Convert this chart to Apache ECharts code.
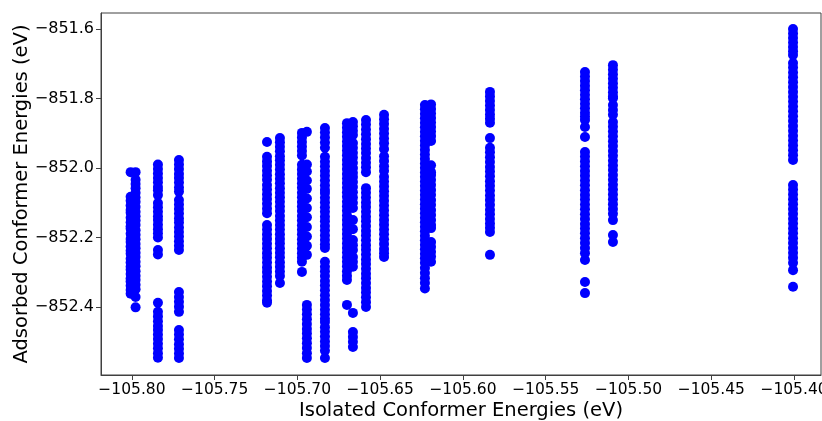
<!DOCTYPE html>
<html>
<head>
<meta charset="utf-8">
<script src="https://cdn.jsdelivr.net/npm/echarts@6/dist/echarts.min.js"></script>
<style>html,body{margin:0;padding:0;background:#fff}#chart{width:822px;height:421px}</style>
</head>
<body>
<div id="chart"></div>
<script>
// x position (isolated conformer energy, eV) of each vertical column of points
const colX = [-105.8008, -105.7978, -105.7843, -105.7716, -105.7184, -105.7106, -105.6973, -105.6943,
  -105.6834, -105.6701, -105.6665, -105.6586, -105.6477, -105.6230, -105.6193, -105.5837,
  -105.5263, -105.5094, -105.4006];
// adsorbed conformer energies (eV) for each column
const c01 = [-852.012, -852.083, -852.094, -852.108, -852.121, -852.129, -852.143, -852.156, -852.168, -852.175, -852.189, -852.204, -852.213, -852.226, -852.238, -852.247, -852.261, -852.272, -852.284, -852.293, -852.305, -852.318, -852.327, -852.339, -852.351, -852.362];
const c02 = [-852.012, -852.034, -852.046, -852.058, -852.071, -852.085, -852.097, -852.112, -852.126, -852.139, -852.151, -852.164, -852.179, -852.192, -852.205, -852.219, -852.231, -852.244, -852.256, -852.270, -852.283, -852.297, -852.310, -852.322, -852.336, -852.349, -852.371, -852.401];
const c03 = [-851.990, -852.003, -852.016, -852.029, -852.041, -852.055, -852.064, -852.078, -852.101, -852.113, -852.126, -852.139, -852.150, -852.163, -852.176, -852.188, -852.200, -852.236, -852.249, -852.388, -852.414, -852.427, -852.441, -852.455, -852.466, -852.479, -852.492, -852.506, -852.519, -852.533, -852.546];
const c04 = [-851.977, -851.990, -852.003, -852.017, -852.029, -852.042, -852.056, -852.068, -852.092, -852.105, -852.118, -852.131, -852.145, -852.157, -852.171, -852.184, -852.197, -852.211, -852.224, -852.236, -852.357, -852.371, -852.385, -852.399, -852.414, -852.466, -852.479, -852.493, -852.507, -852.520, -852.534, -852.547];
const c05 = [-851.925, -851.968, -851.981, -851.994, -852.008, -852.021, -852.034, -852.049, -852.062, -852.076, -852.089, -852.103, -852.117, -852.130, -852.164, -852.177, -852.191, -852.204, -852.218, -852.231, -852.245, -852.258, -852.272, -852.286, -852.299, -852.313, -852.327, -852.340, -852.354, -852.367, -852.381, -852.388];
const c06 = [-851.914, -851.926, -851.939, -851.952, -851.966, -851.978, -851.991, -852.004, -852.018, -852.031, -852.044, -852.058, -852.071, -852.084, -852.097, -852.111, -852.124, -852.138, -852.151, -852.164, -852.177, -852.191, -852.204, -852.217, -852.231, -852.244, -852.257, -852.271, -852.284, -852.298, -852.311, -852.331];
const c07 = [-851.899, -851.912, -851.925, -851.938, -851.951, -851.964, -851.991, -852.004, -852.017, -852.031, -852.044, -852.057, -852.071, -852.084, -852.098, -852.111, -852.124, -852.138, -852.151, -852.165, -852.178, -852.191, -852.205, -852.218, -852.232, -852.245, -852.258, -852.270, -852.299];
const c08 = [-851.896, -851.990, -852.010, -852.036, -852.060, -852.088, -852.115, -852.142, -852.170, -852.197, -852.224, -852.250, -852.394, -852.407, -852.421, -852.435, -852.449, -852.463, -852.476, -852.490, -852.504, -852.518, -852.533, -852.547];
const c09 = [-851.885, -851.898, -851.912, -851.927, -851.942, -851.968, -851.982, -851.995, -852.009, -852.022, -852.036, -852.050, -852.063, -852.072, -852.086, -852.099, -852.113, -852.126, -852.140, -852.153, -852.167, -852.180, -852.194, -852.207, -852.220, -852.230, -852.270, -852.284, -852.297, -852.311, -852.325, -852.338, -852.352, -852.366, -852.380, -852.394, -852.408, -852.421, -852.434, -852.443, -852.458, -852.471, -852.485, -852.499, -852.512, -852.526, -852.547];
const c10 = [-851.871, -851.884, -851.897, -851.910, -851.924, -851.937, -851.950, -851.963, -851.977, -851.990, -852.003, -852.017, -852.030, -852.043, -852.057, -852.070, -852.083, -852.097, -852.110, -852.123, -852.137, -852.150, -852.163, -852.177, -852.190, -852.203, -852.217, -852.230, -852.243, -852.257, -852.270, -852.283, -852.297, -852.310, -852.322, -852.394];
const c11 = [-851.868, -851.880, -851.893, -851.905, -851.928, -851.942, -851.956, -851.970, -851.985, -852.000, -852.014, -852.026, -852.040, -852.055, -852.070, -852.085, -852.100, -852.115, -852.150, -852.176, -852.207, -852.222, -852.236, -852.256, -852.270, -852.284, -852.417, -852.472, -852.486, -852.500, -852.515];
const c12 = [-851.862, -851.875, -851.889, -851.903, -851.917, -851.931, -851.944, -851.957, -851.971, -851.985, -851.998, -852.012, -852.058, -852.071, -852.085, -852.099, -852.112, -852.126, -852.140, -852.153, -852.167, -852.181, -852.194, -852.208, -852.222, -852.235, -852.249, -852.263, -852.276, -852.290, -852.304, -852.317, -852.331, -852.345, -852.358, -852.372, -852.386, -852.400];
const c13 = [-851.847, -851.860, -851.873, -851.887, -851.901, -851.915, -851.929, -851.945, -851.966, -851.980, -851.995, -852.008, -852.025, -852.039, -852.053, -852.067, -852.080, -852.094, -852.108, -852.122, -852.136, -852.150, -852.163, -852.177, -852.191, -852.205, -852.219, -852.233, -852.245, -852.256];
const c14 = [-851.819, -851.831, -851.844, -851.857, -851.870, -851.883, -851.896, -851.909, -851.922, -851.935, -851.948, -851.961, -851.974, -851.987, -852.000, -852.013, -852.026, -852.039, -852.052, -852.065, -852.078, -852.091, -852.104, -852.117, -852.130, -852.143, -852.156, -852.169, -852.182, -852.195, -852.208, -852.221, -852.234, -852.247, -852.260, -852.273, -852.288, -852.302, -852.317, -852.331, -852.347];
const c15 = [-851.817, -851.830, -851.843, -851.856, -851.869, -851.882, -851.895, -851.908, -851.922, -851.992, -852.012, -852.020, -852.034, -852.048, -852.063, -852.077, -852.092, -852.106, -852.121, -852.135, -852.150, -852.164, -852.173, -852.213, -852.227, -852.241, -852.255, -852.270];
const c16 = [-851.781, -851.794, -851.807, -851.820, -851.833, -851.846, -851.858, -851.870, -851.914, -851.942, -851.955, -851.969, -851.983, -851.997, -852.010, -852.024, -852.038, -852.051, -852.065, -852.079, -852.092, -852.106, -852.120, -852.133, -852.147, -852.160, -852.172, -852.184, -852.250];
const c17 = [-851.724, -851.737, -851.750, -851.763, -851.776, -851.789, -851.802, -851.815, -851.828, -851.841, -851.852, -851.862, -851.882, -851.911, -851.954, -851.967, -851.981, -851.995, -852.009, -852.022, -852.036, -852.050, -852.064, -852.078, -852.091, -852.105, -852.119, -852.133, -852.147, -852.161, -852.174, -852.188, -852.202, -852.216, -852.230, -852.245, -852.265, -852.328, -852.360];
const c18 = [-851.704, -851.717, -851.730, -851.743, -851.756, -851.769, -851.782, -851.794, -851.799, -851.819, -851.833, -851.847, -851.868, -851.881, -851.895, -851.909, -851.923, -851.937, -851.951, -851.965, -851.979, -851.993, -852.006, -852.020, -852.034, -852.048, -852.062, -852.076, -852.090, -852.104, -852.118, -852.132, -852.150, -852.193, -852.213];
const c19 = [-851.600, -851.613, -851.626, -851.639, -851.652, -851.664, -851.675, -851.698, -851.711, -851.725, -851.739, -851.753, -851.767, -851.781, -851.795, -851.809, -851.823, -851.837, -851.851, -851.865, -851.879, -851.893, -851.907, -851.921, -851.935, -851.949, -851.963, -851.977, -852.049, -852.062, -852.076, -852.090, -852.104, -852.118, -852.132, -852.146, -852.160, -852.174, -852.188, -852.202, -852.216, -852.230, -852.244, -852.258, -852.273, -852.294, -852.342];
const colY = [c01, c02, c03, c04, c05, c06, c07, c08, c09, c10, c11, c12, c13, c14, c15, c16, c17, c18, c19];

const xTicks = [-105.80, -105.75, -105.70, -105.65, -105.60, -105.55, -105.50, -105.45, -105.40];
const yTicks = [-852.4, -852.2, -852.0, -851.8, -851.6];
const xTitle = 'Isolated Conformer Energies (eV)';
const yTitle = 'Adsorbed Conformer Energies (eV)';

const points = [];
colX.forEach((x, i) => colY[i].forEach(y => points.push([x, y])));

const fmt = d => v => (v < 0 ? '\u2212' : '') + Math.abs(v).toFixed(d);
const FONT = 'DejaVu Sans';
const lineCol = '#404040';

const chart = echarts.init(document.getElementById('chart'), null, {renderer: 'canvas'});
chart.setOption({
  animation: false,
  backgroundColor: '#fff',
  grid: {left: 101, right: 1, top: 13, bottom: 46, show: true, borderColor: lineCol, borderWidth: 1,
    backgroundColor: 'transparent', containLabel: false, outerBoundsMode: 'none'},
  xAxis: {
    type: 'value', min: -105.8187, max: -105.3837,
    name: xTitle, nameLocation: 'middle', nameGap: 26, nameMoveOverlap: false,
    nameTextStyle: {fontFamily: FONT, fontSize: 19.5, color: '#000'},
    axisLine: {show: true, onZero: false, lineStyle: {color: lineCol, width: 1}},
    axisTick: {show: true, inside: false, length: 5, customValues: xTicks, lineStyle: {color: lineCol}},
    axisLabel: {show: true, customValues: xTicks, formatter: fmt(2), margin: 7, fontFamily: FONT, fontSize: 15.5, color: '#000'},
    splitLine: {show: false}
  },
  yAxis: {
    type: 'value', min: -852.5957, max: -851.554,
    name: yTitle, nameLocation: 'middle', nameGap: 69, nameRotate: 90, nameMoveOverlap: false,
    nameTextStyle: {fontFamily: FONT, fontSize: 19.5, color: '#000'},
    axisLine: {show: true, onZero: false, lineStyle: {color: lineCol, width: 1}},
    axisTick: {show: true, inside: false, length: 5, customValues: yTicks, lineStyle: {color: lineCol}},
    axisLabel: {show: true, customValues: yTicks, formatter: fmt(1), margin: 7, fontFamily: FONT, fontSize: 16, color: '#000'},
    splitLine: {show: false}
  },
  series: [{
    type: 'scatter',
    data: points,
    symbol: 'circle',
    symbolSize: 10,
    itemStyle: {color: '#0000ff', opacity: 1},
    silent: true
  }]
});
</script>
</body>
</html>
